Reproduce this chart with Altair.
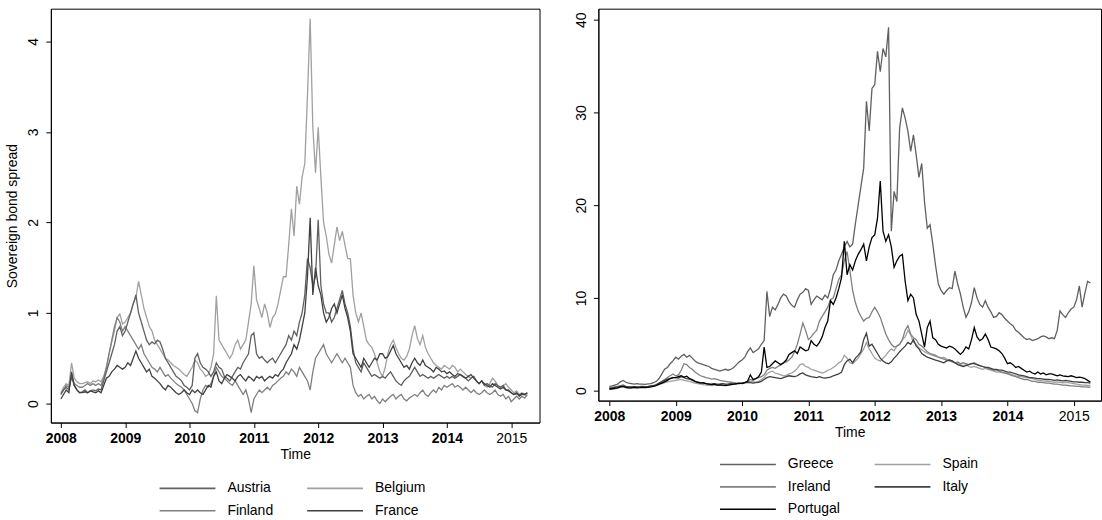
import altair as alt
import pandas as pd

# semi-monthly grid, 2008.0 .. 2015.25
N_PER_YEAR = 24
N_POINTS = 175
time_grid = [2008 + k / N_PER_YEAR for k in range(N_POINTS)]

left_names = ["Austria", "Belgium", "Finland", "France"]
left_colors = ["#606060", "#a0a0a0", "#808080", "#404040"]
right_names = ["Greece", "Spain", "Ireland", "Italy", "Portugal"]
right_colors = ["#606060", "#a0a0a0", "#808080", "#404040", "#000000"]

austria = [
    0.10, 0.15, 0.18, 0.15, 0.30, 0.20, 0.15, 0.12, 0.13, 0.15, 0.12, 0.14,
    0.15, 0.14, 0.16, 0.15, 0.25, 0.35, 0.45, 0.55, 0.65, 0.80, 0.85, 0.75,
    0.80, 0.90, 1.00, 1.10, 1.20, 1.00, 0.90, 0.80, 0.70, 0.65, 0.68, 0.66,
    0.70, 0.68, 0.60, 0.50, 0.45, 0.40, 0.35, 0.30, 0.28, 0.25, 0.20, 0.18,
    0.15, 0.20, 0.50, 0.55, 0.45, 0.40, 0.38, 0.35, 0.30, 0.35, 0.45, 0.40,
    0.38, 0.30, 0.28, 0.25, 0.30, 0.35, 0.40, 0.38, 0.45, 0.50, 0.55, 0.75,
    0.78, 0.55, 0.50, 0.52, 0.48, 0.45, 0.48, 0.50, 0.45, 0.50, 0.55, 0.60,
    0.65, 0.75, 0.70, 0.80, 0.75, 0.90, 1.00, 1.20, 1.60, 1.50, 1.30, 1.40,
    2.03, 1.30, 1.10, 1.00, 1.00, 0.90, 0.95, 1.05, 1.15, 1.25, 1.10, 1.00,
    0.85, 0.60, 0.45, 0.40, 0.35, 0.45, 0.40, 0.35, 0.30, 0.32, 0.30, 0.28,
    0.30, 0.28, 0.32, 0.35, 0.30, 0.25, 0.22, 0.20, 0.25, 0.28, 0.30, 0.35,
    0.40, 0.35, 0.30, 0.32, 0.30, 0.28, 0.30, 0.28, 0.30, 0.32, 0.30, 0.28,
    0.30, 0.28, 0.30, 0.28, 0.30, 0.32, 0.30, 0.28, 0.25, 0.28, 0.30, 0.25,
    0.22, 0.25, 0.20, 0.22, 0.20, 0.18, 0.22, 0.20, 0.18, 0.20, 0.15, 0.15,
    0.12, 0.10, 0.12, 0.08, 0.10, 0.10, 0.12,
]
belgium = [
    0.12, 0.18, 0.22, 0.20, 0.45, 0.28, 0.24, 0.22, 0.22, 0.23, 0.24, 0.22,
    0.25, 0.24, 0.26, 0.24, 0.30, 0.40, 0.55, 0.68, 0.80, 0.95, 0.99, 0.88,
    0.90, 0.95, 1.00, 1.10, 1.17, 1.35, 1.20, 1.05, 0.95, 0.85, 0.80, 0.70,
    0.65, 0.60, 0.55, 0.50, 0.48, 0.45, 0.42, 0.40, 0.38, 0.35, 0.32, 0.30,
    0.35, 0.40, 0.48, 0.45, 0.38, 0.35, 0.30, 0.32, 0.40, 0.55, 1.19, 0.70,
    0.65, 0.60, 0.55, 0.50, 0.55, 0.65, 0.70, 0.60, 0.65, 0.70, 0.90, 1.10,
    1.52, 1.15, 1.05, 0.95, 1.10, 1.00, 0.84, 0.95, 0.99, 1.10, 1.25, 1.40,
    1.40, 1.75, 2.15, 1.85, 2.40, 2.20, 2.50, 2.65, 3.40, 4.25, 3.05, 2.55,
    3.05, 2.50, 2.00, 1.85, 1.65, 1.55, 1.75, 1.95, 1.80, 1.90, 1.75, 1.60,
    1.60, 1.20, 1.00, 0.90, 1.00, 0.85, 0.70, 0.65, 0.62, 0.55, 0.45, 0.35,
    0.30, 0.40, 0.55, 0.65, 0.70, 0.62, 0.55, 0.50, 0.48, 0.52, 0.60, 0.75,
    0.86, 0.72, 0.65, 0.75, 0.62, 0.55, 0.50, 0.45, 0.42, 0.40, 0.38, 0.42,
    0.40, 0.38, 0.42, 0.40, 0.35, 0.38, 0.35, 0.32, 0.30, 0.28, 0.30, 0.25,
    0.22, 0.25, 0.20, 0.18, 0.22, 0.28, 0.25, 0.20, 0.18, 0.20, 0.22, 0.18,
    0.15, 0.12, 0.14, 0.10, 0.12, 0.10, 0.08,
]
finland = [
    0.10, 0.15, 0.20, 0.18, 0.30, 0.22, 0.20, 0.18, 0.18, 0.20, 0.22, 0.20,
    0.22, 0.20, 0.22, 0.20, 0.28, 0.40, 0.55, 0.70, 0.85, 0.95, 0.90, 0.80,
    0.85, 0.80, 0.75, 0.70, 0.65, 0.60, 0.65, 0.55, 0.50, 0.45, 0.40, 0.38,
    0.35, 0.40, 0.35, 0.30, 0.32, 0.28, 0.25, 0.22, 0.20, 0.18, 0.15, 0.10,
    0.05, 0.00, -0.08, -0.10, 0.05, 0.15, 0.20, 0.18, 0.22, 0.30, 0.40, 0.35,
    0.30, 0.28, 0.25, 0.22, 0.20, 0.25, 0.20, 0.15, 0.10, 0.15, 0.05, -0.10,
    0.05, 0.10, 0.15, 0.12, 0.15, 0.18, 0.15, 0.20, 0.22, 0.25, 0.28, 0.30,
    0.35, 0.32, 0.38, 0.35, 0.30, 0.40, 0.35, 0.30, 0.25, 0.15, 0.35, 0.50,
    0.55, 0.60, 0.65, 0.55, 0.50, 0.45, 0.50, 0.55, 0.50, 0.45, 0.50, 0.45,
    0.40, 0.20, 0.12, 0.08, 0.10, 0.05, 0.08, 0.10, 0.05, 0.08, 0.03, 0.00,
    0.05, 0.02, 0.05, 0.08, 0.10, 0.05, 0.08, 0.10, 0.05, 0.03, 0.06, 0.08,
    0.10, 0.08, 0.12, 0.15, 0.10, 0.08, 0.12, 0.15, 0.12, 0.18, 0.15, 0.20,
    0.18, 0.20, 0.22, 0.18, 0.20, 0.18, 0.15, 0.18, 0.15, 0.12, 0.15, 0.12,
    0.10, 0.12, 0.15, 0.12, 0.10, 0.12, 0.15, 0.10, 0.08, 0.10, 0.05, 0.08,
    0.02, 0.05, 0.08, 0.05, 0.08, 0.06, 0.10,
]
france = [
    0.05, 0.10, 0.15, 0.12, 0.35, 0.20, 0.15, 0.12, 0.12, 0.13, 0.12, 0.14,
    0.13, 0.12, 0.14, 0.12, 0.20, 0.28, 0.30, 0.35, 0.38, 0.42, 0.40, 0.38,
    0.40, 0.45, 0.42, 0.50, 0.58, 0.50, 0.45, 0.40, 0.35, 0.38, 0.30, 0.28,
    0.25, 0.22, 0.18, 0.15, 0.20, 0.18, 0.15, 0.12, 0.10, 0.12, 0.15, 0.12,
    0.10, 0.15, 0.12, 0.15, 0.12, 0.10, 0.15, 0.20, 0.18, 0.30, 0.35, 0.25,
    0.22, 0.28, 0.32, 0.30, 0.28, 0.25, 0.30, 0.32, 0.28, 0.25, 0.30, 0.28,
    0.25, 0.30, 0.28, 0.30, 0.25, 0.28, 0.30, 0.28, 0.32, 0.30, 0.35, 0.38,
    0.45, 0.50, 0.55, 0.65, 0.60, 0.70, 0.85, 1.00, 1.40, 2.05, 1.20, 1.50,
    1.30, 1.20, 1.00, 0.90, 0.95, 1.05, 1.10, 1.00, 1.10, 1.20, 1.05, 0.95,
    0.80, 0.55, 0.50, 0.45, 0.40, 0.50, 0.45, 0.40, 0.45, 0.50, 0.48, 0.55,
    0.55, 0.50, 0.52, 0.58, 0.64, 0.55, 0.50, 0.45, 0.40, 0.42, 0.38, 0.45,
    0.50, 0.45, 0.42, 0.48, 0.42, 0.40, 0.38, 0.35, 0.40, 0.38, 0.35, 0.36,
    0.33, 0.35, 0.32, 0.30, 0.33, 0.32, 0.30, 0.28, 0.30, 0.32, 0.28, 0.25,
    0.22, 0.25, 0.22, 0.20, 0.18, 0.22, 0.20, 0.18, 0.16, 0.18, 0.15, 0.14,
    0.12, 0.10, 0.11, 0.09, 0.11, 0.10, 0.12,
]

greece = [
    0.45, 0.50, 0.60, 0.70, 0.95, 1.10, 0.90, 0.80, 0.75, 0.70, 0.75, 0.70,
    0.70, 0.68, 0.72, 0.75, 0.85, 1.00, 1.30, 1.80, 2.30, 2.50, 2.90, 3.20,
    3.60, 3.40, 3.70, 3.90, 3.60, 3.80, 3.50, 3.20, 3.00, 2.90, 2.80, 2.70,
    2.60, 2.40, 2.30, 2.20, 2.10, 2.20, 2.30, 2.20, 2.30, 2.50, 2.80, 3.10,
    3.30, 3.60, 4.20, 4.60, 4.10, 4.30, 4.50, 5.00, 5.40, 10.70, 8.00, 9.00,
    8.70, 9.30, 10.00, 10.40, 10.20, 9.60, 9.20, 9.00, 9.80, 10.40, 10.60, 11.00,
    10.80, 9.30, 9.80, 10.20, 10.00, 9.80, 10.30, 10.00, 11.00, 12.50, 13.00, 14.00,
    14.70, 15.50, 16.10, 15.50, 15.80, 18.00, 20.00, 22.00, 24.00, 31.20, 28.00, 32.60,
    33.00, 36.60, 34.40, 36.90, 36.00, 39.20, 17.20, 21.50, 20.40, 28.30, 30.50, 29.40,
    28.00, 25.80, 27.60, 25.40, 23.00, 24.50, 20.40, 17.50, 17.90, 15.80, 13.50, 11.50,
    10.80, 10.40, 10.80, 11.10, 11.00, 12.90, 11.50, 10.40, 9.00, 7.90, 8.50, 9.50,
    11.10, 10.00, 9.30, 9.00, 9.70, 9.00, 8.50, 7.90, 8.00, 8.40, 8.20, 7.80,
    7.50, 7.20, 7.00, 6.50, 6.30, 6.00, 5.70, 5.50, 5.60, 5.40, 5.50, 5.60,
    5.80, 5.90, 5.80, 5.60, 5.70, 5.60, 6.50, 8.60, 8.20, 7.90, 8.40, 8.80,
    9.00, 9.80, 11.30, 9.00, 10.50, 11.80, 11.60,
]
spain = [
    0.10, 0.15, 0.20, 0.25, 0.35, 0.40, 0.30, 0.28, 0.30, 0.35, 0.32, 0.35,
    0.38, 0.40, 0.42, 0.45, 0.50, 0.55, 0.65, 0.75, 0.85, 0.95, 1.00, 1.05,
    1.10, 1.15, 1.20, 1.10, 1.05, 1.00, 0.90, 0.80, 0.75, 0.70, 0.65, 0.60,
    0.58, 0.55, 0.60, 0.62, 0.58, 0.55, 0.60, 0.62, 0.65, 0.68, 0.70, 0.75,
    0.80, 0.85, 0.90, 1.00, 0.95, 0.90, 1.00, 1.20, 1.40, 1.80, 2.00, 2.10,
    1.90, 1.80, 1.70, 1.60, 1.65, 1.80, 1.90, 2.10, 2.40, 2.80, 2.90, 2.60,
    2.50, 2.30, 2.20, 2.10, 2.00, 1.90, 2.00, 2.20, 2.30, 2.50, 2.70, 3.00,
    3.20, 3.80, 3.50, 3.00, 2.90, 3.20, 3.50, 4.00, 4.50, 5.20, 4.50, 4.00,
    3.50, 3.30, 3.20, 3.50, 3.80, 4.20, 4.50, 4.30, 4.80, 5.00, 5.50, 5.80,
    6.50, 6.00, 5.20, 5.00, 4.60, 4.40, 4.20, 4.00, 3.90, 3.80, 3.70, 3.60,
    3.50, 3.60, 3.40, 3.30, 3.20, 3.00, 2.90, 2.80, 2.70, 2.80, 2.60, 2.50,
    2.60, 2.50, 2.40, 2.30, 2.40, 2.30, 2.20, 2.10, 2.00, 2.00, 1.95, 1.90,
    1.85, 1.80, 1.70, 1.60, 1.55, 1.50, 1.45, 1.40, 1.35, 1.30, 1.20, 1.10,
    1.10, 1.05, 1.00, 1.00, 0.95, 0.90, 0.95, 0.90, 0.85, 0.90, 0.85, 0.80,
    0.75, 0.70, 0.65, 0.60, 0.60, 0.55, 0.55,
]
ireland = [
    0.30, 0.35, 0.40, 0.45, 0.55, 0.60, 0.45, 0.40, 0.38, 0.35, 0.38, 0.36,
    0.38, 0.35, 0.40, 0.45, 0.50, 0.60, 0.80, 1.00, 1.20, 1.40, 1.60, 1.80,
    1.60, 1.70, 2.20, 2.90, 2.80, 2.50, 2.30, 2.00, 1.80, 1.60, 1.50, 1.40,
    1.35, 1.25, 1.30, 1.20, 1.10, 1.05, 1.00, 0.95, 0.90, 0.85, 0.80, 0.75,
    0.80, 0.90, 1.00, 1.20, 1.10, 1.30, 1.40, 1.50, 1.70, 2.20, 2.40, 2.50,
    2.40, 2.60, 2.80, 3.00, 3.10, 3.30, 3.60, 4.20, 5.00, 6.10, 7.30, 6.50,
    5.50, 5.80, 6.20, 6.50, 7.50, 8.00, 8.50, 9.00, 9.80, 10.00, 11.00, 12.00,
    12.50, 14.00, 15.00, 13.00, 10.80, 9.50, 8.60, 8.00, 7.50, 7.80, 7.90, 8.50,
    9.00, 8.50, 7.90, 7.00, 6.10, 5.50, 5.00, 4.70, 4.80, 5.00, 5.50, 6.50,
    7.00, 6.10, 5.70, 5.50, 5.00, 4.80, 4.50, 4.20, 4.00, 3.90, 3.80, 3.60,
    3.50, 3.40, 3.30, 3.20, 3.10, 3.00, 3.10, 2.90, 3.00, 2.90, 2.80, 2.90,
    3.00, 2.80, 2.70, 2.60, 2.50, 2.40, 2.30, 2.20, 2.20, 2.10, 2.00, 1.90,
    1.80, 1.70, 1.60, 1.50, 1.40, 1.30, 1.20, 1.20, 1.10, 1.00, 1.00, 0.90,
    0.90, 0.85, 0.80, 0.80, 0.75, 0.70, 0.70, 0.65, 0.60, 0.60, 0.55, 0.50,
    0.50, 0.45, 0.45, 0.40, 0.40, 0.38, 0.35,
]
italy = [
    0.25, 0.30, 0.35, 0.40, 0.45, 0.50, 0.42, 0.40, 0.40, 0.42, 0.40, 0.42,
    0.45, 0.42, 0.45, 0.50, 0.55, 0.65, 0.80, 0.95, 1.10, 1.25, 1.30, 1.40,
    1.40, 1.35, 1.50, 1.40, 1.30, 1.25, 1.10, 1.00, 0.90, 0.85, 0.80, 0.75,
    0.70, 0.72, 0.75, 0.70, 0.72, 0.75, 0.70, 0.72, 0.75, 0.70, 0.75, 0.78,
    0.80, 0.85, 0.90, 0.85, 0.80, 0.85, 0.90, 1.00, 1.20, 1.40, 1.50, 1.45,
    1.40, 1.35, 1.30, 1.40, 1.50, 1.60, 1.55, 1.50, 1.60, 1.80, 1.90, 1.70,
    1.60, 1.50, 1.45, 1.40, 1.50, 1.40, 1.35, 1.40, 1.45, 1.60, 1.70, 1.80,
    2.00, 2.80, 3.20, 3.40, 3.00, 3.50, 3.80, 4.20, 5.50, 6.20, 4.80, 5.00,
    4.50, 4.00, 3.50, 3.20, 3.00, 2.90, 3.10, 3.50, 3.80, 4.20, 4.50, 4.80,
    5.20, 5.00, 5.50, 4.80, 4.50, 4.00, 3.80, 3.60, 3.50, 3.40, 3.30, 3.20,
    3.10, 3.00, 3.20, 3.30, 3.20, 3.00, 2.80, 2.70, 2.60, 2.70, 2.80, 2.90,
    2.90, 2.80, 2.70, 2.60, 2.50, 2.50, 2.40, 2.30, 2.30, 2.20, 2.20, 2.10,
    2.00, 2.00, 1.90, 1.80, 1.70, 1.65, 1.60, 1.50, 1.40, 1.40, 1.35, 1.30,
    1.30, 1.25, 1.20, 1.20, 1.15, 1.10, 1.15, 1.10, 1.05, 1.10, 1.05, 1.00,
    0.95, 0.95, 0.90, 0.90, 0.85, 0.85, 0.80,
]
portugal = [
    0.15, 0.20, 0.25, 0.30, 0.40, 0.45, 0.35, 0.30, 0.30, 0.35, 0.30, 0.32,
    0.35, 0.32, 0.35, 0.40, 0.45, 0.55, 0.70, 0.80, 0.95, 1.10, 1.30, 1.40,
    1.40, 1.50, 1.60, 1.45, 1.55, 1.30, 1.20, 1.00, 0.90, 0.80, 0.85, 0.75,
    0.70, 0.65, 0.70, 0.60, 0.62, 0.58, 0.55, 0.60, 0.65, 0.70, 0.75, 0.80,
    0.75, 0.85, 1.00, 1.70, 1.20, 1.30, 1.50, 2.00, 4.70, 2.50, 2.60, 2.90,
    3.20, 3.00, 2.80, 3.00, 3.30, 3.90, 4.10, 4.30, 4.00, 4.70, 4.50, 4.30,
    4.40, 5.40, 5.00, 4.80, 5.20, 5.80, 6.80, 7.50, 9.70, 9.30, 10.00, 11.00,
    12.20, 16.10, 12.50, 13.60, 13.00, 14.00, 14.70, 15.20, 15.80, 14.00, 15.50, 16.50,
    16.80, 18.60, 22.60, 17.20, 16.10, 16.80, 15.50, 13.30, 14.00, 14.50, 14.70, 11.80,
    9.70, 10.40, 10.00, 8.20, 7.50, 6.10, 4.70, 6.80, 7.50, 5.70, 5.50, 5.00,
    4.80, 4.70, 4.60, 4.80, 4.70, 4.50, 4.20, 3.90, 4.20, 4.70, 4.50, 5.50,
    6.80, 5.80, 5.40, 5.60, 6.10, 5.50, 4.70, 4.60, 4.50, 4.30, 4.00, 3.50,
    2.90, 3.00, 2.80, 2.50, 2.60, 2.40, 2.20, 2.00, 2.10, 1.90, 1.80, 2.00,
    1.80, 1.90, 1.70, 1.80, 1.80, 1.70, 1.60, 1.70, 1.60, 1.55, 1.50, 1.60,
    1.50, 1.40, 1.45, 1.40, 1.30, 1.10, 0.90,
]

left_series = {"Austria": austria, "Belgium": belgium, "Finland": finland, "France": france}
right_series = {"Greece": greece, "Spain": spain, "Ireland": ireland, "Italy": italy, "Portugal": portugal}

left_draw_order = ["Belgium", "Finland", "Austria", "France"]
right_draw_order = ["Spain", "Ireland", "Italy", "Greece", "Portugal"]


def long_df(order, series):
    rows = []
    for i, name in enumerate(order):
        vals = series[name]
        assert len(vals) == N_POINTS, (name, len(vals))
        for t, v in zip(time_grid, vals):
            rows.append({"t": t, "v": v, "country": name, "ord": i})
    return pd.DataFrame(rows)


df_left = long_df(left_draw_order, left_series)
df_right = long_df(right_draw_order, right_series)

FONT = "Liberation Sans"
year_ticks = list(range(2008, 2016))


def x_axis():
    return alt.Axis(
        values=year_ticks, format="d", title="Time", grid=False,
        labelFont=FONT, labelFontSize=14, labelColor="black",
        labelFontWeight={"condition": {"test": "datum.value < 2015", "value": "bold"}, "value": "normal"},
        titleFont=FONT, titleFontSize=14, titleFontWeight="normal", titleColor="black",
        tickSize=5, tickColor="black", domainColor="black",
        labelPadding=4, titlePadding=2, labelFlush=False, labelOverlap=False,
    )


# long horizontal stroke as legend key (path extends beyond unit box so rows stay compact)
LEGEND_KEY = "M-4,0H4"


def legend(x, y):
    return alt.Legend(
        title=None, orient="none", legendX=x, legendY=y, columns=2, direction="horizontal",
        symbolType=LEGEND_KEY, symbolSize=196, symbolStrokeWidth=1.6,
        labelFont=FONT, labelFontSize=14, labelColor="black", labelOffset=32,
        columnPadding=30, rowPadding=7.5, padding=0,
    )


left = alt.Chart(df_left).mark_line(strokeWidth=1.3).encode(
    x=alt.X("t:Q", scale=alt.Scale(domain=[2007.845, 2015.44], nice=False, zero=False), axis=x_axis()),
    y=alt.Y("v:Q", scale=alt.Scale(domain=[-0.21, 4.36], nice=False, zero=False),
            axis=alt.Axis(values=[0, 1, 2, 3, 4], title="Sovereign bond spread", grid=False,
                          labelAngle=270, labelAlign="center", labelBaseline="bottom",
                          labelFont=FONT, labelFontSize=14, labelColor="black",
                          titleFont=FONT, titleFontSize=14, titleFontWeight="normal", titleColor="black",
                          tickSize=5, tickColor="black", domainColor="black",
                          labelPadding=5, titlePadding=7)),
    color=alt.Color("country:N", sort=left_names,
                    scale=alt.Scale(domain=left_names, range=left_colors),
                    legend=legend(129, 473)),
    order=alt.Order("ord:Q"),
).properties(width=490, height=415)

right = alt.Chart(df_right).mark_line(strokeWidth=1.3).encode(
    x=alt.X("t:Q", scale=alt.Scale(domain=[2007.835, 2015.41], nice=False, zero=False), axis=x_axis()),
    y=alt.Y("v:Q", scale=alt.Scale(domain=[-1.08, 41.2], nice=False, zero=False),
            axis=alt.Axis(values=[0, 10, 20, 30, 40], title=None, grid=False,
                          labelAngle=270, labelAlign="center", labelBaseline="bottom",
                          labelFont=FONT, labelFontSize=14, labelColor="black",
                          tickSize=5, tickColor="black", domainColor="black",
                          labelPadding=5)),
    color=alt.Color("country:N", sort=right_names,
                    scale=alt.Scale(domain=right_names, range=right_colors),
                    legend=legend(142, 449)),
    order=alt.Order("ord:Q"),
).properties(width=504, height=393)

chart = alt.hconcat(left, right, spacing=33).resolve_scale(color="independent").configure_view(
    stroke="black", strokeWidth=1
).properties(
    padding={"left": 5, "top": 7, "right": 0, "bottom": 0}, background="white"
)

chart.save("out.html", embed_options={"renderer": "svg", "actions": False})
